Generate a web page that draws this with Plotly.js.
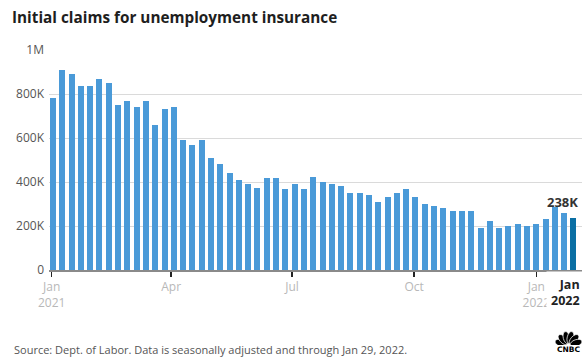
<!DOCTYPE html>
<html>
<head>
<meta charset="utf-8">
<script src="https://cdn.plot.ly/plotly-3.0.1.min.js"></script>
<style>html,body{margin:0;padding:0;background:#fff;}#chart{width:585px;height:358px;}</style>
</head>
<body>
<div id="chart"></div>
<script>
// Week-ending dates (Saturdays)
var weeks = [
  '2021-01-02','2021-01-09','2021-01-16','2021-01-23','2021-01-30',
  '2021-02-06','2021-02-13','2021-02-20','2021-02-27',
  '2021-03-06','2021-03-13','2021-03-20','2021-03-27',
  '2021-04-03','2021-04-10','2021-04-17','2021-04-24',
  '2021-05-01','2021-05-08','2021-05-15','2021-05-22','2021-05-29',
  '2021-06-05','2021-06-12','2021-06-19','2021-06-26',
  '2021-07-03','2021-07-10','2021-07-17','2021-07-24','2021-07-31',
  '2021-08-07','2021-08-14','2021-08-21','2021-08-28',
  '2021-09-04','2021-09-11','2021-09-18','2021-09-25',
  '2021-10-02','2021-10-09','2021-10-16','2021-10-23','2021-10-30',
  '2021-11-06','2021-11-13','2021-11-20','2021-11-27',
  '2021-12-04','2021-12-11','2021-12-18','2021-12-25',
  '2022-01-01','2022-01-08','2022-01-15','2022-01-22','2022-01-29'
];
// Initial claims, thousands
var claimsK = [
  784, 907, 889, 838, 838, 866, 852, 748, 766, 739,
  766, 661, 734, 743, 589, 566, 593, 507, 480, 443,
  407, 389, 375, 420, 416, 370, 389, 370, 425, 398,
  389, 380, 348, 352, 343, 311, 334, 352, 366, 330,
  298, 293, 284, 270, 270, 270, 193, 225, 189, 202,
  207, 198, 207, 230, 286, 261, 238
];
var yTickVals = [0, 200000, 400000, 600000, 800000, 1000000];
var yTickText = ['0', '200K', '400K', '600K', '800K', '1M'];
var xTickVals = ['2021-01-01', '2021-04-01', '2021-07-01', '2021-10-01', '2022-01-01'];
var xTickText = ['Jan<br>2021', 'Apr', 'Jul', 'Oct', 'Jan<br>2022'];

var FONT = '"Open Sans", Lato, "Noto Sans", sans-serif';
var claims = claimsK.map(function (v) { return v * 1000; });
var n = claims.length;
var colors = claims.map(function (v, i) { return i === n - 1 ? '#0b6fa4' : '#4a9ad8'; });

var trace = {
  type: 'bar',
  x: weeks,
  y: claims,
  marker: { color: colors, line: { width: 0 } },
  width: 4.5 * 86400000,
  hoverinfo: 'x+y'
};

// Pixel helpers for paper coords (plot: x 49..582, y 50..270)
function px(X) { return (X - 49) / 533; }
function py(Y) { return (270 - Y) / 220; }

var feathers = '';
[-72, -43, -14, 14, 43, 72].forEach(function (a) {
  feathers += '<ellipse cx="13" cy="7.4" rx="3.3" ry="6.2" fill="#000" stroke="#fff" stroke-width="0.7" transform="rotate(' + a + ' 13 15.5)"/>';
});
var svg = '<svg xmlns="http://www.w3.org/2000/svg" viewBox="0 0 26 15" width="26" height="15">' + feathers + '</svg>';

var layout = {
  width: 585,
  height: 358,
  margin: { l: 49, r: 3, t: 50, b: 88 },
  paper_bgcolor: '#fff',
  plot_bgcolor: '#fff',
  showlegend: false,
  font: { family: FONT, size: 12, color: '#555' },
  title: {
    text: '<b>Initial claims for unemployment insurance</b>',
    x: 12 / 585, xanchor: 'left', xref: 'container',
    y: 1 - 18 / 358, yanchor: 'middle', yref: 'container',
    font: { family: FONT, size: 15.3, color: '#1e1e1e' }
  },
  xaxis: {
    type: 'date',
    range: ['2020-12-30', '2022-02-04 10:00'],
    tickmode: 'array',
    tickvals: xTickVals,
    ticktext: xTickText,
    ticks: 'outside',
    ticklen: 5,
    tickwidth: 1.5,
    tickcolor: '#222',
    showline: true,
    linecolor: '#8a8a8a',
    linewidth: 2,
    showgrid: false,
    zeroline: false,
    tickfont: { family: FONT, size: 12, color: '#b8b8b8' },
    fixedrange: true
  },
  yaxis: {
    range: [0, 1000000],
    tickmode: 'array',
    tickvals: yTickVals,
    ticktext: yTickText,
    showgrid: true,
    gridcolor: '#dadada',
    gridwidth: 1,
    zeroline: false,
    showline: false,
    ticks: '',
    ticklabelstandoff: 4,
    tickfont: { family: FONT, size: 12, color: '#555' },
    fixedrange: true
  },
  bargap: 0,
  annotations: [
    {
      x: weeks[n - 1], y: claims[n - 1], xref: 'x', yref: 'y',
      text: '<b>' + claimsK[n - 1] + 'K</b>',
      showarrow: false, xanchor: 'right', yanchor: 'bottom',
      xshift: 7, yshift: 5,
      font: { family: FONT, size: 13, color: '#333' }
    },
    {
      x: 1, y: py(275), xref: 'paper', yref: 'paper',
      xshift: 3, yshift: 4,
      text: '<b>Jan<br>2022</b>', align: 'right',
      showarrow: false, xanchor: 'right', yanchor: 'top',
      bgcolor: '#fff', borderpad: 4,
      font: { family: FONT, size: 12.5, color: '#222' }
    },
    {
      x: px(12), y: py(349), xref: 'paper', yref: 'paper',
      text: 'Source: Dept. of Labor. Data is seasonally adjusted and through Jan 29, 2022.',
      showarrow: false, xanchor: 'left', yanchor: 'middle',
      font: { family: FONT, size: 11, color: '#555' }
    },
    {
      x: px(568.5), y: py(349.5), xref: 'paper', yref: 'paper',
      text: '<b>CNBC</b>', showarrow: false, xanchor: 'center', yanchor: 'middle',
      font: { family: '"DejaVu Sans", sans-serif', size: 7.5, color: '#000' }
    }
  ],
  images: [
    {
      source: 'data:image/svg+xml;charset=utf-8,' + encodeURIComponent(svg),
      xref: 'paper', yref: 'paper',
      x: px(555.5), y: py(330), sizex: 26 / 533, sizey: 15 / 220,
      xanchor: 'left', yanchor: 'top', sizing: 'stretch', layer: 'above'
    }
  ]
};

Plotly.newPlot('chart', [trace], layout, { displayModeBar: false, staticPlot: true });
</script>
</body>
</html>
